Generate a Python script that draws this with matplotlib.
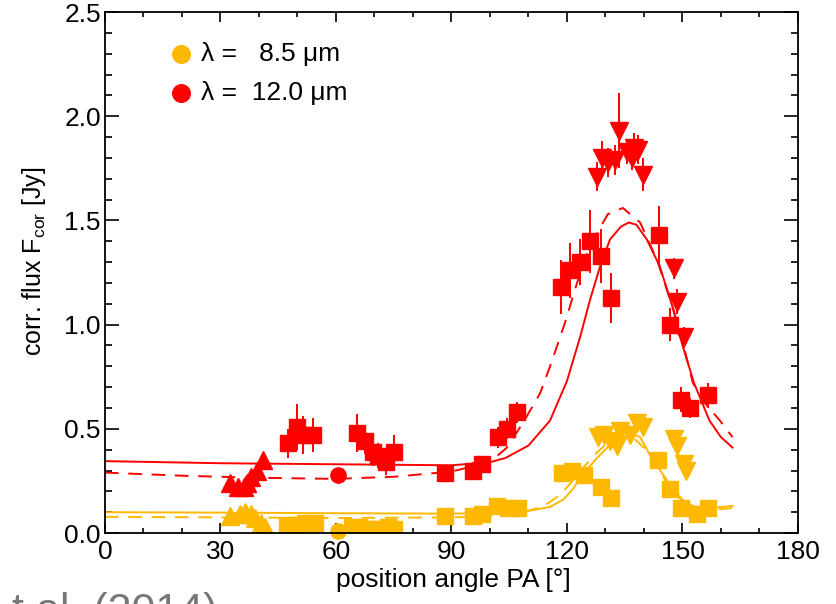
import numpy as np
import matplotlib.pyplot as plt

RED = '#FF0000'
YEL = '#FFB800'

# ---- red, lambda = 12.0 um ----
r_tri_x = [32.5, 34.5, 36.0, 37.0, 38.0, 39.5, 41.0]
r_tri_y = [0.24, 0.22, 0.22, 0.24, 0.27, 0.30, 0.35]
r_tri_e = [0.02, 0.03, 0.03, 0.03, 0.03, 0.03, 0.03]

r_sq_x = [47.5, 50.0, 51.5, 54.0, 65.5, 67.5, 69.5, 71.0, 73.0, 75.0, 88.3, 95.5, 98.0,
          102.0, 104.5, 107.0, 118.5, 120.8, 123.4, 126.0, 128.8, 131.4, 144.0, 146.7,
          149.5, 152.0, 156.5]
r_sq_y = [0.43, 0.51, 0.47, 0.47, 0.48, 0.44, 0.39, 0.37, 0.34, 0.39, 0.29, 0.30, 0.33,
          0.46, 0.50, 0.58, 1.18, 1.26, 1.30, 1.40, 1.33, 1.13, 1.43, 1.00,
          0.64, 0.60, 0.66]
r_sq_e = [0.07, 0.11, 0.09, 0.08, 0.09, 0.06, 0.07, 0.06, 0.06, 0.08, 0.03, 0.04, 0.04,
          0.05, 0.05, 0.05, 0.13, 0.13, 0.11, 0.15, 0.13, 0.12, 0.14, 0.08,
          0.06, 0.05, 0.06]

r_dot_x = [60.5]
r_dot_y = [0.28]

r_down_x = [127.8, 129.0, 130.7, 132.4, 133.5, 135.5, 136.9, 137.5, 138.4, 139.7, 147.8, 148.7, 150.3]
r_down_y = [1.71, 1.80, 1.78, 1.79, 1.93, 1.83, 1.80, 1.85, 1.84, 1.72, 1.27, 1.11, 0.94]
r_down_e = [0.07, 0.08, 0.07, 0.07, 0.18, 0.06, 0.06, 0.07, 0.07, 0.08, 0.05, 0.06, 0.05]

# model curves
r_fit_x = [0, 30, 60, 90, 100, 104, 110, 115.6, 120, 123.4, 126, 128.6, 131.2, 134, 136,
           138, 140.7, 144.1, 147.5, 150, 153, 157, 160, 163]
r_fit_y = [0.345, 0.335, 0.33, 0.325, 0.34, 0.36, 0.42, 0.54, 0.73, 0.94, 1.12, 1.28, 1.41,
           1.47, 1.49, 1.48, 1.41, 1.28, 1.08, 0.90, 0.72, 0.54, 0.46, 0.41]
r_dash_x = [0, 20, 40, 60, 75, 90, 100, 104.4, 108.6, 113, 116, 119.5, 122.6, 126, 130.6,
            134.5, 139, 143.4, 147.5, 150, 152.7, 156, 159.7, 163]
r_dash_y = [0.29, 0.275, 0.265, 0.26, 0.27, 0.295, 0.34, 0.41, 0.53, 0.67, 0.82, 1.01, 1.20,
            1.38, 1.53, 1.56, 1.49, 1.31, 1.08, 0.92, 0.72, 0.62, 0.54, 0.46]

# ---- yellow, lambda = 8.5 um ----
y_tri_x = [32.5, 35.0, 36.5, 38.0, 39.0, 40.5, 41.5]
y_tri_y = [0.08, 0.09, 0.10, 0.09, 0.07, 0.05, 0.03]

y_sq_x = [47.2, 50.0, 52.0, 54.5, 64.2, 66.0, 68.0, 70.0, 71.5, 73.5, 75.0, 88.3, 95.6, 98.0,
          101.8, 104.7, 107.3, 118.7, 121.3, 124.5, 128.8, 131.4, 143.6, 146.7, 149.5,
          153.7, 156.6]
y_sq_y = [0.04, 0.04, 0.05, 0.05, 0.03, 0.03, 0.02, 0.02, 0.02, 0.03, 0.02, 0.08, 0.08, 0.09,
          0.13, 0.12, 0.12, 0.29, 0.30, 0.28, 0.22, 0.17, 0.35, 0.21, 0.12,
          0.09, 0.12]

y_dot_x = [60.5]
y_dot_y = [0.01]

y_down_x = [128.0, 129.5, 131.2, 133.0, 133.8, 136.3, 138.2, 139.7, 147.8, 148.7, 150.3, 151.0]
y_down_y = [0.46, 0.47, 0.44, 0.42, 0.49, 0.47, 0.53, 0.51, 0.45, 0.42, 0.33, 0.30]

y_fit_x = [0, 30, 60, 90, 100, 107, 111, 115.6, 119, 121.5, 124, 127.8, 131, 134, 137,
           139, 142, 145, 147.5, 150, 152.7, 156, 160, 163]
y_fit_y = [0.10, 0.098, 0.095, 0.093, 0.095, 0.10, 0.11, 0.125, 0.16, 0.21, 0.28, 0.36,
           0.42, 0.46, 0.475, 0.46, 0.36, 0.28, 0.21, 0.16, 0.13, 0.12, 0.125, 0.13]
y_dash_x = [0, 30, 60, 90, 100, 108, 114, 118, 121, 124, 128, 131, 134, 137, 140, 143,
            146, 149, 152, 156, 160, 163]
y_dash_y = [0.078, 0.075, 0.072, 0.075, 0.08, 0.095, 0.13, 0.18, 0.24, 0.31, 0.39, 0.44,
            0.465, 0.46, 0.41, 0.33, 0.24, 0.17, 0.13, 0.11, 0.115, 0.12]

plt.rcParams['font.family'] = ['Liberation Sans', 'DejaVu Sans']
plt.rcParams['mathtext.fontset'] = 'custom'
plt.rcParams['mathtext.rm'] = 'Liberation Sans'

fig = plt.figure(figsize=(8.37, 6.04), dpi=100)
ax = fig.add_axes([0.1254, 0.1175, 0.828, 0.8625])

ms_sq, ms_tri, ms_dot = 11.5, 13.5, 11
eb = dict(elinewidth=1.4, capsize=0, linestyle='none')
# fitted curves
ax.plot(r_fit_x, r_fit_y, color=RED, lw=1.4)
ax.plot(r_dash_x, r_dash_y, color=RED, lw=1.4, dashes=(7, 5))
ax.plot(y_fit_x, y_fit_y, color=YEL, lw=1.4)
ax.plot(y_dash_x, y_dash_y, color=YEL, lw=1.4, dashes=(7, 5))

# yellow data
ax.errorbar(y_tri_x, y_tri_y, yerr=0.02, marker='^', color=YEL, ms=ms_tri, **eb)
ax.errorbar(y_sq_x, y_sq_y, yerr=0.025, marker='s', color=YEL, ms=ms_sq, **eb)
ax.plot(y_dot_x, y_dot_y, 'o', color=YEL, ms=ms_dot, clip_on=False)
ax.errorbar(y_down_x, y_down_y, yerr=0.04, marker='v', color=YEL, ms=ms_tri, **eb)

# red data
ax.errorbar(r_tri_x, r_tri_y, yerr=r_tri_e, marker='^', color=RED, ms=ms_tri, **eb)
ax.errorbar(r_sq_x, r_sq_y, yerr=r_sq_e, marker='s', color=RED, ms=ms_sq, **eb)
ax.plot(r_dot_x, r_dot_y, 'o', color=RED, ms=ms_dot)
ax.errorbar(r_down_x, r_down_y, yerr=r_down_e, marker='v', color=RED, ms=ms_tri, **eb)

# legend
h1 = ax.scatter([], [], s=160, color=YEL)
h2 = ax.scatter([], [], s=160, color=RED)
ax.legend([h1, h2], ['\u03bb =   8.5 \u03bcm', '\u03bb =  12.0 \u03bcm'], loc='upper left',
          bbox_to_anchor=(0.053, 0.988), frameon=False, fontsize=19, handletextpad=0.15,
          labelspacing=0.55, handlelength=1.2)

ax.set_xlim(0, 180)
ax.set_ylim(0, 2.5)
ax.set_xticks(np.arange(0, 181, 30))
ax.set_xticks(np.arange(0, 181, 10), minor=True)
ax.set_yticks(np.arange(0, 2.51, 0.5))
ax.set_yticks(np.arange(0, 2.51, 0.1), minor=True)
ax.yaxis.set_major_formatter(plt.FormatStrFormatter('%.1f'))
ax.tick_params(axis='both', which='both', direction='in', top=True, right=True,
               labelsize=19, width=1.2)
ax.tick_params(axis='x', which='major', length=7.2, pad=5)
ax.tick_params(axis='x', which='minor', length=3.6)
ax.tick_params(axis='y', which='major', length=10, pad=3)
ax.tick_params(axis='y', which='minor', length=5)
for s in ax.spines.values():
    s.set_linewidth(1.3)

ax.set_xlabel('position angle PA [\u00b0]', fontsize=19)
ax.set_ylabel(r'corr. flux F$_{\rm cor}$ [Jy]', fontsize=18)
ax.xaxis.set_label_coords(0.503, -0.068)
ax.xaxis.label.set_va('top')
ax.yaxis.set_label_coords(-0.082, 0.522)

fig.text(0.014, -0.031, 't al. (2014)', fontsize=31, color='#777777', ha='left', va='baseline')

fig.savefig('out.png', dpi=100)
